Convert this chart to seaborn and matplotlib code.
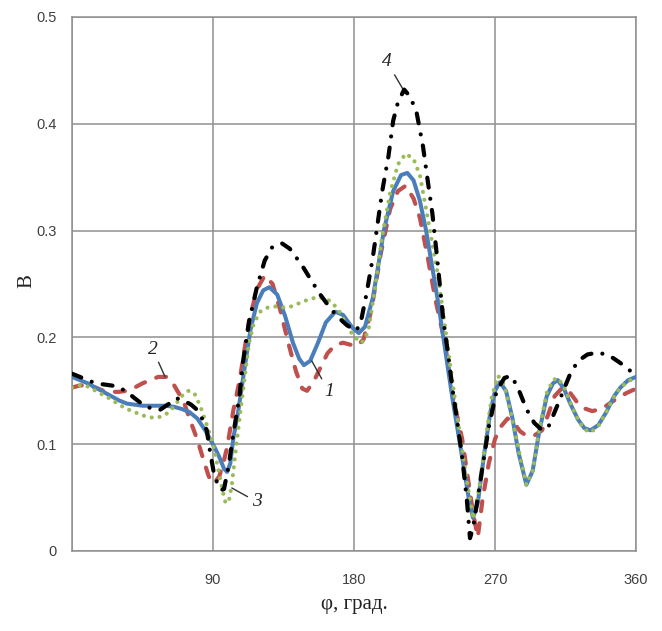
import matplotlib
matplotlib.use("Agg")
import matplotlib.pyplot as plt
import numpy as np
import pandas as pd
import seaborn as sns

# ---- data ----
phi1 = [0, 5, 10, 15, 20, 25, 30, 35, 40, 45, 50, 55, 60, 65, 70, 75, 80, 85, 88, 91, 94, 97, 99,
        101, 103, 106, 110, 114, 118, 122, 126, 131, 136, 141, 145, 148, 152, 157, 162, 168, 173,
        179, 183, 187, 192, 196, 199, 205, 210, 214, 218, 222, 226, 230, 234, 238, 243, 250, 254,
        256, 259, 263, 267, 270, 273, 277, 281, 285, 290, 294, 298, 303, 307, 310, 314, 318, 323,
        327, 331, 336, 341, 346, 350, 355, 360]
B1 = [0.163, 0.160, 0.157, 0.153, 0.149, 0.145, 0.141, 0.138, 0.137, 0.136, 0.136, 0.136, 0.136,
      0.135, 0.133, 0.130, 0.124, 0.113, 0.105, 0.097, 0.088, 0.077, 0.074, 0.082, 0.106, 0.130,
      0.170, 0.208, 0.232, 0.244, 0.247, 0.240, 0.220, 0.195, 0.180, 0.174, 0.178, 0.195, 0.214,
      0.224, 0.221, 0.209, 0.204, 0.210, 0.237, 0.272, 0.300, 0.337, 0.352, 0.354, 0.347, 0.328,
      0.300, 0.265, 0.230, 0.190, 0.141, 0.079, 0.042, 0.031, 0.045, 0.090, 0.130, 0.150, 0.158,
      0.150, 0.125, 0.092, 0.062, 0.075, 0.110, 0.145, 0.157, 0.160, 0.152, 0.138, 0.123, 0.115,
      0.113, 0.118, 0.130, 0.145, 0.153, 0.160, 0.163]

phi2 = [0, 5, 10, 15, 20, 25, 30, 35, 40, 45, 50, 55, 60, 64, 68, 71, 75, 80, 84, 87, 89, 91, 94,
        97, 99, 103, 107, 110, 113, 118, 123, 128, 133, 138, 143, 147, 150, 154, 158, 163, 168,
        173, 178, 182, 186, 191, 197, 203, 208, 213, 218, 222, 227, 232, 238, 243, 249, 253, 256,
        259, 262, 266, 270, 274, 278, 282, 286, 290, 295, 300, 304, 308, 313, 318, 322, 326, 332,
        338, 343, 348, 354, 360]
B2 = [0.153, 0.155, 0.155, 0.153, 0.150, 0.149, 0.149, 0.150, 0.153, 0.157, 0.160, 0.163, 0.163,
      0.158, 0.148, 0.141, 0.124, 0.104, 0.085, 0.071, 0.064, 0.064, 0.070, 0.085, 0.097, 0.132,
      0.160, 0.188, 0.215, 0.245, 0.258, 0.250, 0.225, 0.195, 0.168, 0.152, 0.150, 0.158, 0.170,
      0.185, 0.193, 0.195, 0.193, 0.192, 0.198, 0.225, 0.278, 0.320, 0.337, 0.342, 0.330, 0.312,
      0.275, 0.235, 0.195, 0.145, 0.105, 0.065, 0.035, 0.013, 0.048, 0.082, 0.105, 0.117, 0.124,
      0.120, 0.112, 0.108, 0.108, 0.113, 0.128, 0.145, 0.153, 0.148, 0.140, 0.134, 0.131, 0.133,
      0.138, 0.143, 0.148, 0.152]

phi3 = [0, 5, 10, 15, 20, 25, 30, 35, 40, 45, 50, 55, 60, 65, 70, 74, 78, 82, 86, 90, 93, 96, 98,
        100, 102, 104, 107, 110, 113, 116, 120, 125, 130, 135, 140, 145, 150, 155, 160, 165, 170,
        174, 178, 182, 185, 189, 193, 198, 203, 208, 213, 218, 222, 227, 233, 237, 241, 246, 251,
        256, 260, 264, 268, 272, 276, 280, 285, 290, 294, 298, 303, 307, 310, 314, 318, 323, 327,
        331, 336, 341, 346, 350, 355, 360]
B3 = [0.153, 0.155, 0.154, 0.150, 0.146, 0.142, 0.137, 0.133, 0.130, 0.127, 0.125, 0.125, 0.128,
      0.135, 0.145, 0.150, 0.148, 0.135, 0.118, 0.100, 0.079, 0.057, 0.045, 0.046, 0.062, 0.088,
      0.125, 0.160, 0.195, 0.213, 0.224, 0.228, 0.229, 0.228, 0.229, 0.232, 0.235, 0.237, 0.237,
      0.234, 0.226, 0.215, 0.205, 0.198, 0.195, 0.205, 0.242, 0.295, 0.335, 0.362, 0.372, 0.367,
      0.352, 0.312, 0.263, 0.222, 0.178, 0.125, 0.075, 0.030, 0.060, 0.105, 0.145, 0.164, 0.155,
      0.130, 0.095, 0.062, 0.075, 0.112, 0.148, 0.160, 0.162, 0.154, 0.139, 0.123, 0.114, 0.111,
      0.117, 0.130, 0.145, 0.153, 0.159, 0.162]

phi4 = [0, 5, 10, 15, 20, 25, 29, 35, 40, 47, 56, 63, 66, 70, 76, 80, 83, 86, 88, 91, 95, 97, 100,
        103, 107, 109, 113, 118, 123, 128, 134, 139, 147, 152, 158, 164, 169, 175, 181, 184, 188,
        192, 198, 202, 205, 208, 212, 216, 220, 224, 227, 230, 233, 237, 240, 243, 246, 249, 252,
        254, 256, 259, 262, 266, 271, 276, 280, 284, 290, 295, 300, 304, 310, 318, 323, 329, 336,
        344, 350, 355, 360]
B4 = [0.166, 0.163, 0.160, 0.157, 0.156, 0.155, 0.154, 0.149, 0.143, 0.135, 0.132, 0.139, 0.143,
      0.142, 0.137, 0.132, 0.124, 0.113, 0.094, 0.069, 0.057, 0.058, 0.080, 0.110, 0.146, 0.176,
      0.215, 0.247, 0.272, 0.285, 0.288, 0.283, 0.267, 0.255, 0.241, 0.229, 0.220, 0.212, 0.206,
      0.212, 0.241, 0.275, 0.337, 0.370, 0.403, 0.420, 0.432, 0.425, 0.410, 0.379, 0.347, 0.316,
      0.275, 0.216, 0.185, 0.150, 0.120, 0.088, 0.048, 0.012, 0.022, 0.050, 0.079, 0.116, 0.150,
      0.162, 0.164, 0.155, 0.133, 0.120, 0.113, 0.116, 0.137, 0.166, 0.178, 0.184, 0.186, 0.182,
      0.176, 0.170, 0.165]

xticks = [0, 90, 180, 270, 360]
xticklabels = ["", "90", "180", "270", "360"]
yticks = [0, 0.1, 0.2, 0.3, 0.4, 0.5]
yticklabels = ["0", "0.1", "0.2", "0.3", "0.4", "0.5"]

# ---- style ----
sns.set_theme(style="white")
plt.rcParams["font.family"] = ["Liberation Sans", "DejaVu Sans"]

fig = plt.figure(figsize=(6.62, 6.31), dpi=100)
ax = fig.add_axes([0.1088, 0.1268, 0.852, 0.8463])

grid_c = "#8f8f8f"

styles = [
    (phi1, B1, "#4A7EBB", dict(linestyle="-", solid_capstyle="round"), 2.9, 3),
    (phi2, B2, "#C0504D", dict(linestyle=(0, (2.4, 2.9)), dash_capstyle="round"), 3.0, 2),
    (phi3, B3, "#9BBB59", dict(linestyle=(0, (0.01, 1.9)), dash_capstyle="round"), 3.0, 4),
    (phi4, B4, "#000000", dict(linestyle=(0, (2.4, 2.7, 0.01, 2.7)), dash_capstyle="round"), 3.0, 5),
]
for phi, B, c, kw, lw, z in styles:
    sns.lineplot(x=phi, y=B, ax=ax, color=c, lw=lw, zorder=z, sort=False, **kw)

ax.set_xlim(0, 360)
ax.set_ylim(0, 0.5)
ax.set_xticks(xticks)
ax.set_xticklabels(xticklabels)
ax.set_yticks(yticks)
ax.set_yticklabels(yticklabels)
ax.grid(True, color=grid_c, lw=1.1)
ax.set_axisbelow(True)
for s in ax.spines.values():
    s.set_color(grid_c)
    s.set_linewidth(1.1)
ax.tick_params(axis="both", length=0, labelsize=10.5, labelcolor="#404040")
ax.tick_params(axis="y", pad=11)
ax.tick_params(axis="x", pad=16)

ax.set_xlabel("φ, град.", fontfamily="Liberation Serif", fontsize=15, color="#222222")
ax.set_ylabel("B", fontfamily="Liberation Serif", fontsize=15, color="#222222")
ax.xaxis.set_label_coords(0.5, -0.083)
ax.yaxis.set_label_coords(-0.064, 0.505)

# ---- curve number annotations ----
ann_font = dict(fontfamily="Liberation Serif", fontstyle="italic", fontsize=14, color="#222222",
                ha="center", va="center")
arrow = dict(arrowstyle="-", color="#333333", lw=1.0, shrinkA=-1, shrinkB=0)
ax.annotate("4", xy=(211.4, 0.432), xytext=(201, 0.458), arrowprops=arrow, **ann_font)
ax.annotate("2", xy=(59.4, 0.163), xytext=(51.5, 0.189), arrowprops=arrow, **ann_font)
ax.annotate("1", xy=(153, 0.178), xytext=(164, 0.149), arrowprops=arrow, **ann_font)
ax.annotate("3", xy=(102, 0.059), xytext=(118, 0.046), arrowprops=arrow, **ann_font)

fig.savefig("out.png", dpi=100)
